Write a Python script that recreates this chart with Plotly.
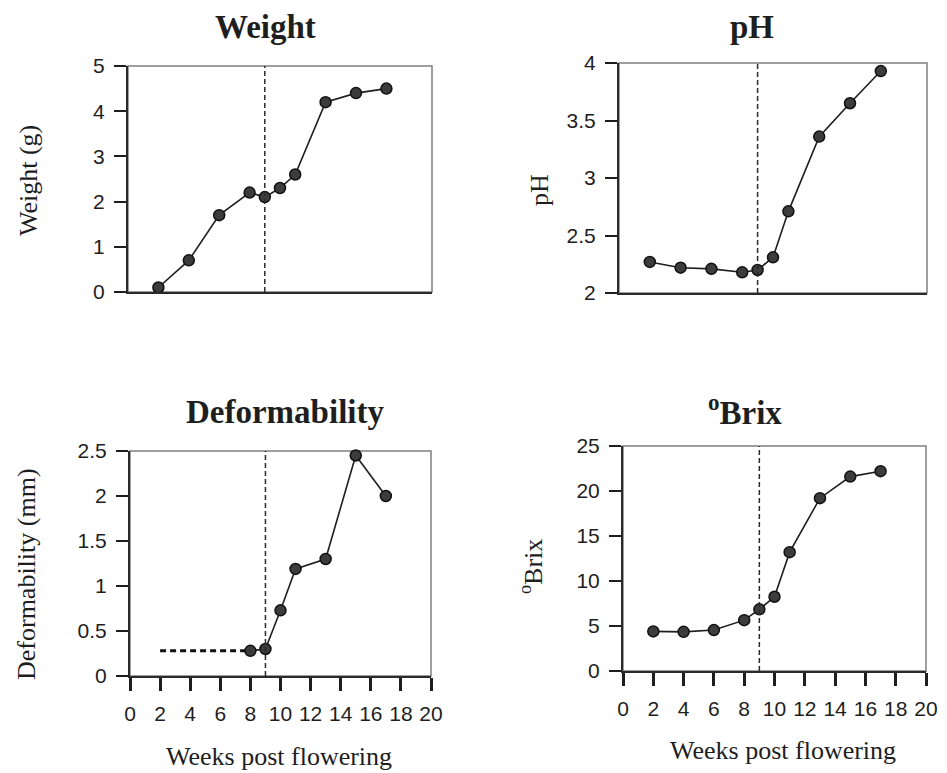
import plotly.graph_objects as go

# ---------------- data ----------------
weeks = [2, 4, 6, 8, 9, 10, 11, 13, 15, 17]
weight_g = [0.1, 0.7, 1.7, 2.2, 2.1, 2.3, 2.6, 4.2, 4.4, 4.5]
ph_values = [2.27, 2.22, 2.21, 2.18, 2.20, 2.31, 2.71, 3.36, 3.65, 3.93]
deform_weeks = [8, 9, 10, 11, 13, 15, 17]
deform_mm = [0.28, 0.30, 0.73, 1.19, 1.30, 2.45, 2.0]
deform_dash_weeks = [2, 8]
deform_dash_mm = [0.28, 0.28]
brix_values = [4.4, 4.35, 4.55, 5.65, 6.85, 8.25, 13.2, 19.2, 21.6, 22.2]
veraison_week = 9

x_ticks = list(range(0, 21, 2))
weight_ticks = [0, 1, 2, 3, 4, 5]
ph_ticks = [2, 2.5, 3, 3.5, 4]
deform_ticks = [0, 0.5, 1, 1.5, 2, 2.5]
brix_ticks = [0, 5, 10, 15, 20, 25]

# page body has an 8px margin; figure is sized to fit the rest of the window
OFF = 8
FW, FH = 947 - OFF, 773 - OFF

def px_x(p):
    return (p - OFF) / FW

def px_y(p):
    return 1 - (p - OFF) / FH

panels = [
    dict(ax="", xs=(128, 432), ys=(66, 292), yr=[0, 5], yt=weight_ticks, xl=False),
    dict(ax="2", xs=(619, 927), ys=(63, 293), yr=[2, 4], yt=ph_ticks, xl=False),
    dict(ax="3", xs=(130, 431), ys=(451, 676), yr=[0, 2.5], yt=deform_ticks, xl=True),
    dict(ax="4", xs=(623, 926), ys=(446, 671), yr=[0, 25], yt=brix_ticks, xl=True),
]

fig = go.Figure()

line_style = dict(color="#1e1e1e", width=1.6)
marker_style = dict(size=11, color="#3c3c3c", line=dict(color="#111111", width=1.5))

series = [
    ("", weeks, weight_g),
    ("2", weeks, ph_values),
    ("3", deform_weeks, deform_mm),
    ("4", weeks, brix_values),
]
for ax, xv, yv in series:
    fig.add_trace(go.Scatter(
        x=xv, y=yv, mode="lines+markers",
        line=line_style, marker=marker_style,
        xaxis="x" + ax, yaxis="y" + ax, cliponaxis=False, showlegend=False,
    ))

fig.add_trace(go.Scatter(
    x=deform_dash_weeks, y=deform_dash_mm, mode="lines",
    line=dict(color="#111111", width=3, dash="6px,4px"),
    xaxis="x3", yaxis="y3", showlegend=False,
))

tick_font = dict(family="Liberation Sans, Arial, sans-serif", size=21, color="#1e1e1e")

for p in panels:
    ax = p["ax"]
    xkey = "xaxis" + ax
    ykey = "yaxis" + ax
    xd = dict(
        domain=[px_x(p["xs"][0]), px_x(p["xs"][1])],
        range=[0, 20], anchor="y" + ax, automargin=False,
        showgrid=False, zeroline=False,
        showline=True, linecolor="#2a2a2a", linewidth=2,
    )
    if p["xl"]:
        xd.update(tickvals=x_ticks, ticks="outside", ticklen=13, tickwidth=2.5,
                  tickcolor="#1e1e1e", showticklabels=True, tickfont=tick_font,
                  ticklabelstandoff=5)
    else:
        xd.update(ticks="", showticklabels=False)
    fig.layout[xkey] = xd
    fig.layout[ykey] = dict(
        domain=[px_y(p["ys"][1]), px_y(p["ys"][0])],
        range=p["yr"], anchor="x" + ax, automargin=False,
        showgrid=False, zeroline=False,
        showline=True, linecolor="#2a2a2a", linewidth=2,
        tickvals=p["yt"], ticks="outside", ticklen=12, tickwidth=2,
        tickcolor="#1e1e1e", tickfont=tick_font,
        ticklabelstandoff=5,
    )
    fig.add_shape(type="rect", xref="x" + ax + " domain", yref="y" + ax + " domain",
                  x0=0, x1=1, y0=0, y1=1, layer="below",
                  line=dict(color="#808080", width=1.5))
    fig.add_shape(type="line", xref="x" + ax, yref="y" + ax + " domain",
                  x0=veraison_week, x1=veraison_week, y0=0, y1=1,
                  line=dict(color="#2a2a2a", width=1.5, dash="5px,3px"))

serif = "Liberation Serif, Times New Roman, serif"
title_font = dict(family=serif, size=33, color="#1e1e1e")
label_font = dict(family=serif, size=26, color="#1e1e1e")

annots = [
    ("<b>Weight</b>", 265, 27, 0, title_font),
    ("<b>pH</b>", 752, 27, 0, title_font),
    ("<b>Deformability</b>", 285, 412, 0, title_font),
    ("<b><sup>o</sup>Brix</b>", 745, 410, 0, title_font),
    ("Weight (g)", 29, 181, -90, label_font),
    ("pH", 539, 190, -90, label_font),
    ("Deformability (mm)", 26, 574, -90, label_font),
    ("<sup>o</sup>Brix", 531, 567, -90, label_font),
    ("Weeks post flowering", 279, 756, 0, label_font),
    ("Weeks post flowering", 783, 750, 0, label_font),
]
for text, x, y, ang, f in annots:
    fig.add_annotation(text=text, x=px_x(x), y=px_y(y), xref="paper", yref="paper",
                       xanchor="center", yanchor="middle", textangle=ang,
                       showarrow=False, font=f)

fig.update_layout(
    width=FW, height=FH,
    margin=dict(l=0, r=0, t=0, b=0),
    paper_bgcolor="white", plot_bgcolor="white",
    showlegend=False,
)

fig.write_html("out.html")
